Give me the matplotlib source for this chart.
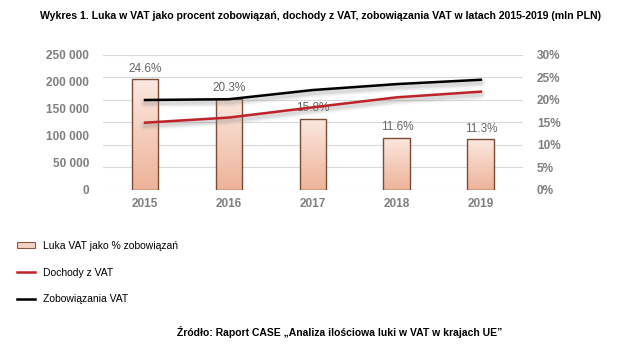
import matplotlib
matplotlib.use("Agg")
import matplotlib.pyplot as plt
import numpy as np
from matplotlib.patches import Rectangle
from matplotlib.lines import Line2D
from matplotlib.colors import LinearSegmentedColormap
from matplotlib.ticker import FuncFormatter, PercentFormatter

years = ["2015", "2016", "2017", "2018", "2019"]
luka_pct = [24.6, 20.3, 15.8, 11.6, 11.3]
dochody = [124500, 134000, 153000, 171500, 182000]
zobowiazania = [166500, 168000, 185000, 196000, 204000]

title = "Wykres 1. Luka w VAT jako procent zobowiązań, dochody z VAT, zobowiązania VAT w latach 2015-2019 (mln PLN)"
source = "Źródło: Raport CASE „Analiza ilościowa luki w VAT w krajach UE”"

grey = "#7f7f7f"
narrow = ["Liberation Sans Narrow", "Liberation Sans", "DejaVu Sans"]
plt.rcParams["font.family"] = ["Liberation Sans", "DejaVu Sans"]

fig = plt.figure(figsize=(6.4, 3.59), dpi=100)
ax = fig.add_axes([0.161, 0.471, 0.656, 0.376])
x = np.arange(len(years))
w = 0.32

# bars (percent scale) on the bottom axes
grad = LinearSegmentedColormap.from_list("g", ["#eeb398", "#fbe8e0"])
ax.set_xlim(-0.5, 4.5)
ax.set_ylim(0, 30)
bars = ax.bar(x, luka_pct, width=w, facecolor="none", edgecolor="#7a4b36",
              linewidth=1.0, zorder=3)
for b, v in zip(bars, luka_pct):
    img = ax.imshow(np.linspace(0, 1, 100).reshape(-1, 1), cmap=grad,
                    extent=[b.get_x(), b.get_x() + b.get_width(), 0, b.get_height()],
                    aspect="auto", origin="lower", zorder=2)
    img.set_clip_path(b)
    ax.text(b.get_x() + b.get_width() / 2, v + 1.0, f"{v:.1f}%", ha="center",
            va="bottom", fontsize=8.5, color="#666666", zorder=4)
ax.set_xlim(-0.5, 4.5)
ax.set_ylim(0, 30)
ax.set_yticks(range(0, 31, 5))
ax.yaxis.set_major_formatter(PercentFormatter(decimals=0))
ax.grid(axis="y", color="#d9d9d9", linewidth=0.8, zorder=0)
ax.set_axisbelow(True)
ax.set_xticks(x)
ax.set_xticklabels(years)
for s in ax.spines.values():
    s.set_visible(False)

# lines (mln PLN) on the twin axes
ax2 = ax.twinx()
ax.yaxis.tick_right()
ax2.yaxis.tick_left()
ax2.set_ylim(0, 250000)
ax2.set_yticks(range(0, 250001, 50000))
ax2.yaxis.set_major_formatter(FuncFormatter(lambda v, p: f"{int(v):,}".replace(",", " ")))
for s in ax2.spines.values():
    s.set_visible(False)

ax.tick_params(length=0, colors=grey, labelsize=8.5)
ax.tick_params(axis="y", pad=10)
ax.tick_params(axis="x", pad=6)
ax2.tick_params(length=0, colors=grey, labelsize=8.5, pad=10)
for t in ax.get_xticklabels() + ax.get_yticklabels() + ax2.get_yticklabels():
    t.set_fontweight("bold")

for vals, col in [(zobowiazania, "black"), (dochody, "#c0222a")]:
    sh = np.array(vals) - 5500
    for lw, a in [(7, 0.06), (5, 0.1), (3, 0.15)]:
        ax2.plot(x, sh, color="#808080", linewidth=lw, alpha=a,
                 solid_capstyle="round", zorder=2)
    ax2.plot(x, vals, color=col, linewidth=1.8, zorder=3)

fig.text(0.5, 0.955, title, ha="center", va="center", fontsize=7.6,
         fontweight="bold", family=narrow)

handles = [Rectangle((0, 0), 1, 1, facecolor="#f6d2c2", edgecolor="#8a5a44", linewidth=0.8),
           Line2D([], [], color="#c0222a", linewidth=1.8),
           Line2D([], [], color="black", linewidth=1.8)]
labels = ["Luka VAT jako % zobowiązań", "Dochody z VAT", "Zobowiązania VAT"]
fig.legend(handles, labels, loc="upper left", bbox_to_anchor=(0.012, 0.355),
           frameon=False, handlelength=1.7, handleheight=0.55,
           labelspacing=1.6, handletextpad=0.8,
           prop={"family": narrow, "size": 7.5})

fig.text(0.53, 0.075, source, ha="center", va="center", fontsize=7.5,
         fontweight="bold", family=narrow)

fig.savefig("out.png", dpi=100)
